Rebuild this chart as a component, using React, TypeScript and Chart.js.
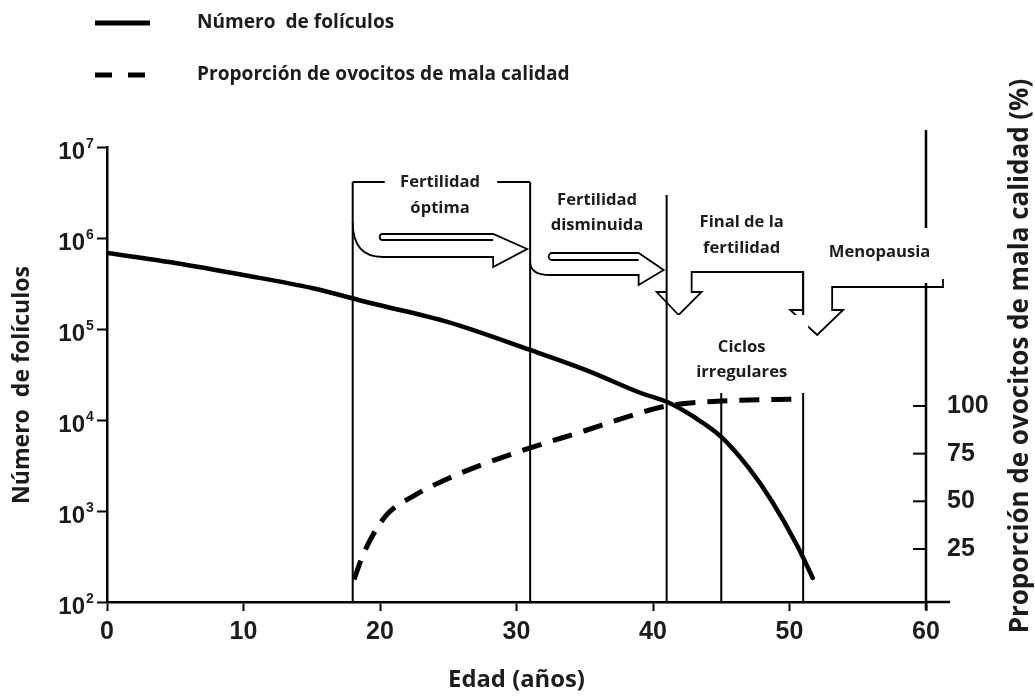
import React, { useEffect, useRef } from "react";
import { Chart, registerables } from "chart.js";

Chart.register(...registerables);

// ---------------- data ----------------
const follicleAges = [0, 5, 10, 15, 19.3, 25, 31, 35.1, 39.1, 41.2, 43, 45, 47, 48.7, 50.55, 51.7];
const follicleCounts = [684000, 531000, 392000, 282000, 193000, 119000, 58800, 35400, 19800, 15400, 10800, 6530, 2990, 1290, 421, 184];

const qualityAges = [18.1, 18.6, 19.3, 20.5, 22.5, 25, 28, 31, 35, 38, 41, 45, 51];
const poorQualityPct = [9, 19, 30, 43, 53, 62, 70.6, 78, 87, 94, 100, 102.6, 103.6];

const xTickValues = [0, 10, 20, 30, 40, 50, 60];
const leftTickExponents = [2, 3, 4, 5, 6, 7];
const rightTickValues = [25, 50, 75, 100];

const phaseBoundaries = [18, 31, 41, 45, 51];
const seriesNames = ["Número  de folículos", "Proporción de ovocitos de mala calidad"];
const leftTitle = "Número  de folículos";
const rightTitle = "Proporción de ovocitos de mala calidad (%)";
const bottomTitle = "Edad (años)";
const phaseLabels = [
  ["Fertilidad", "óptima"],
  ["Fertilidad", "disminuida"],
  ["Final de la", "fertilidad"],
  ["Menopausia"],
  ["Ciclos", "irregulares"],
];
// label centre ages for the phase texts
const phaseLabelAges = [24.4, 35.9, 46.5, 56.6, 46.5];

// ---------------- styles ----------------
const INK = "#000000";
const TEXT = "#1c1c1c";
const SANS = "'Open Sans', 'Noto Sans', 'DejaVu Sans', sans-serif";
const TICKF = "'Liberation Sans', Arial, sans-serif";

function fitSize(ctx: CanvasRenderingContext2D, text: string, target: number, family: string) {
  ctx.font = `bold 100px ${family}`;
  return (100 * target) / ctx.measureText(text).width;
}

function seg(ctx: CanvasRenderingContext2D, x1: number, y1: number, x2: number, y2: number) {
  ctx.beginPath();
  ctx.moveTo(x1, y1);
  ctx.lineTo(x2, y2);
  ctx.stroke();
}

type ArrowGeom = { yt: number; yi: number; yb: number; ybar: number; ytip: number; hl: number; fs: number; r: number; cy: number };

function phaseArrow(ctx: CanvasRenderingContext2D, xa: number, xb: number, p: ArrowGeom) {
  const xh = xb - p.hl;
  const xt = xb - 3;
  const rr = (p.yi - p.yt) / 2;
  ctx.beginPath();
  ctx.moveTo(xh, p.yi);
  ctx.lineTo(xa + p.fs, p.yi);
  ctx.arc(xa + p.fs, p.yt + rr, rr, Math.PI / 2, Math.PI * 1.5);
  ctx.lineTo(xh, p.yt);
  ctx.lineTo(xt, p.ytip);
  ctx.lineTo(xh, p.ybar);
  ctx.lineTo(xh, p.yb);
  ctx.lineTo(xa + p.r, p.yb);
  ctx.quadraticCurveTo(xa, p.yb, xa, p.cy);
  ctx.stroke();
}

const decorPlugin = {
  id: "decor",
  beforeDatasetsDraw(chart: any) {
    const ctx: CanvasRenderingContext2D = chart.ctx;
    const xS = chart.scales.x;
    const yS = chart.scales.y;
    const y2S = chart.scales.y2;
    const { top, bottom, right } = chart.chartArea;
    const X = (a: number) => xS.getPixelForValue(a);
    const [p18, p31, p41, p45, p51] = phaseBoundaries.map(X);

    ctx.save();
    ctx.strokeStyle = INK;
    ctx.lineCap = "butt";
    ctx.lineJoin = "miter";

    // right axis line, x axis extension, inward right ticks
    ctx.lineWidth = 2.5;
    seg(ctx, right, top - 17, right, bottom + 8);
    seg(ctx, right, bottom, right + 24, bottom);
    ctx.lineWidth = 2;
    rightTickValues.forEach((v) => {
      const y = y2S.getPixelForValue(v);
      seg(ctx, right - 13, y, right, y);
    });

    // phase boundary lines
    ctx.lineWidth = 2;
    seg(ctx, p18, top + 35, p18, bottom);
    seg(ctx, p31, top + 35, p31, bottom);
    seg(ctx, p41, top + 48, p41, bottom);
    seg(ctx, p45, top + 168, p45, bottom);
    seg(ctx, p51, top + 125, p51, bottom);
    seg(ctx, p18, top + 35, p31, top + 35);

    // arrows
    ctx.lineWidth = 1.8;
    phaseArrow(ctx, p18, p31, { yt: top + 87, yi: top + 93, yb: top + 110, ybar: top + 120, ytip: top + 102, hl: 37, fs: 30, r: 30, cy: top + 75 });
    phaseArrow(ctx, p31, p41, { yt: top + 106, yi: top + 113, yb: top + 128, ybar: top + 138, ytip: top + 123, hl: 28, fs: 22, r: 20, cy: top + 115 });

    // end of fertility / menopause bracket arrows
    ctx.beginPath();
    ctx.moveTo(p41, top + 145);
    ctx.lineTo(p41 - 10, top + 145);
    ctx.lineTo(p41 + 12, top + 168);
    ctx.lineTo(p41 + 35, top + 145);
    ctx.lineTo(p41 + 25, top + 145);
    ctx.lineTo(p41 + 25, top + 125);
    ctx.lineTo(p51, top + 125);
    ctx.lineTo(p51, top + 163);
    ctx.lineTo(p51 - 13, top + 163);
    ctx.lineTo(p51 + 14, top + 188);
    ctx.lineTo(p51 + 40, top + 163);
    ctx.lineTo(p51 + 29, top + 163);
    ctx.lineTo(p51 + 29, top + 140);
    ctx.lineTo(right + 17, top + 140);
    ctx.lineTo(right + 17, top + 132);
    ctx.stroke();

    // white label boxes
    ctx.fillStyle = "#ffffff";
    ctx.fillRect(p18 + 32, top + 21, p31 - p18 - 65, 58);
    ctx.fillRect(p31 + 3, top + 43, p41 - p31 - 5, 58);
    ctx.fillRect(p41 + 4, top + 58, 118, 61);
    ctx.fillRect(p51 + 5, top + 81, right + 16 - p51 - 5, 55);
    ctx.fillRect(p41 + 4, top + 168, p51 - p41 + 1, 78);

    // phase labels
    const lblSize = fitSize(ctx, "Fertilidad", 80, SANS);
    ctx.font = `bold ${lblSize}px ${SANS}`;
    ctx.fillStyle = TEXT;
    ctx.textAlign = "center";
    ctx.textBaseline = "middle";
    const lineYs = [
      [top + 35, top + 61],
      [top + 53, top + 78],
      [top + 75, top + 101],
      [top + 105],
      [top + 200, top + 225],
    ];
    phaseLabels.forEach((lines, i) => {
      lines.forEach((t, j) => ctx.fillText(t, X(phaseLabelAges[i]), lineYs[i][j]));
    });

    // left tick labels with superscripts
    ctx.fillStyle = TEXT;
    leftTickExponents.forEach((e) => {
      const y = yS.getPixelForValue(Math.pow(10, e));
      ctx.font = `bold 24px ${TICKF}`;
      ctx.textAlign = "right";
      ctx.textBaseline = "middle";
      ctx.fillText("10", 85, y + 5);
      ctx.font = `bold 14px ${TICKF}`;
      ctx.textAlign = "left";
      ctx.fillText(String(e), 86, y - 3);
    });

    // axis titles
    ctx.fillStyle = TEXT;
    ctx.textAlign = "center";
    ctx.textBaseline = "middle";
    let s = fitSize(ctx, leftTitle, 238, SANS);
    ctx.save();
    ctx.translate(22, 385);
    ctx.rotate(-Math.PI / 2);
    ctx.font = `bold ${s}px ${SANS}`;
    ctx.fillText(leftTitle, 0, 0);
    ctx.restore();

    s = fitSize(ctx, rightTitle, 555, SANS);
    ctx.save();
    ctx.translate(1021, 356);
    ctx.rotate(-Math.PI / 2);
    ctx.font = `bold ${s}px ${SANS}`;
    ctx.fillText(rightTitle, 0, 0);
    ctx.restore();

    s = fitSize(ctx, bottomTitle, 137, SANS);
    ctx.font = `bold ${s}px ${SANS}`;
    ctx.fillText(bottomTitle, (chart.chartArea.left + right) / 2, 680);

    // legend
    const ds = chart.data.datasets;
    const legSize = fitSize(ctx, seriesNames[1], 373, SANS);
    const legYs = [23, 75];
    ds.forEach((d: any, i: number) => {
      ctx.strokeStyle = d.borderColor;
      ctx.lineWidth = 5;
      ctx.setLineDash(i === 0 ? [] : [17, 16]);
      seg(ctx, 95, legYs[i], 150, legYs[i]);
      ctx.setLineDash([]);
      ctx.font = `bold ${legSize}px ${SANS}`;
      ctx.textAlign = "left";
      ctx.fillStyle = TEXT;
      ctx.fillText(d.label, 197, legYs[i]);
    });

    ctx.restore();
  },
};

export default function App() {
  const ref = useRef<HTMLCanvasElement | null>(null);

  useEffect(() => {
    if (!ref.current) return;
    const tickFont = { family: TICKF, size: 25, weight: "bold" as const };
    const chart = new Chart(ref.current, {
      type: "line",
      data: {
        datasets: [
          {
            label: seriesNames[0],
            data: follicleAges.map((a, i) => ({ x: a, y: follicleCounts[i] })),
            borderColor: INK,
            borderWidth: 4.5,
            pointRadius: 0,
            cubicInterpolationMode: "monotone",
            borderCapStyle: "round",
            yAxisID: "y",
          },
          {
            label: seriesNames[1],
            data: qualityAges.map((a, i) => ({ x: a, y: poorQualityPct[i] })),
            borderColor: INK,
            borderWidth: 5,
            borderDash: [20, 12],
            pointRadius: 0,
            cubicInterpolationMode: "monotone",
            yAxisID: "y2",
          },
        ],
      },
      options: {
        animation: false,
        responsive: true,
        maintainAspectRatio: false,
        layout: { padding: { top: 147, left: 0, right: 0, bottom: 0 } },
        plugins: { legend: { display: false }, tooltip: { enabled: false }, title: { display: false } },
        scales: {
          x: {
            type: "linear",
            min: 0,
            max: 60,
            afterBuildTicks: (s: any) => {
              s.ticks = xTickValues.map((v) => ({ value: v }));
            },
            afterFit: (s: any) => {
              s.height = 96;
            },
            grid: { drawOnChartArea: false, drawTicks: true, tickLength: 9, tickWidth: 2, tickColor: INK, color: INK },
            border: { display: true, color: INK, width: 2.5 },
            ticks: { font: tickFont, color: TEXT, padding: 6, maxRotation: 0, autoSkip: false },
          },
          y: {
            type: "logarithmic",
            position: "left",
            min: 1e2,
            max: 1e7,
            afterBuildTicks: (s: any) => {
              s.ticks = leftTickExponents.map((e) => ({ value: Math.pow(10, e) }));
            },
            afterFit: (s: any) => {
              s.width = 107;
            },
            grid: { drawOnChartArea: false, drawTicks: true, tickLength: 10, tickWidth: 2, tickColor: INK, color: INK },
            border: { display: true, color: INK, width: 2.5 },
            ticks: { callback: () => "", autoSkip: false },
          },
          y2: {
            type: "linear",
            position: "right",
            min: -2.8,
            max: 235.8,
            afterBuildTicks: (s: any) => {
              s.ticks = rightTickValues.map((v) => ({ value: v }));
            },
            afterFit: (s: any) => {
              s.width = 109;
            },
            grid: { display: false },
            border: { display: false },
            ticks: { font: tickFont, color: TEXT, padding: 13, autoSkip: false },
          },
        },
      },
      plugins: [decorPlugin],
    } as any);
    return () => chart.destroy();
  }, []);

  return (
    <div style={{ position: "fixed", left: 0, top: 0, width: 1035, height: 698, background: "#fff" }}>
      <canvas ref={ref} />
    </div>
  );
}
